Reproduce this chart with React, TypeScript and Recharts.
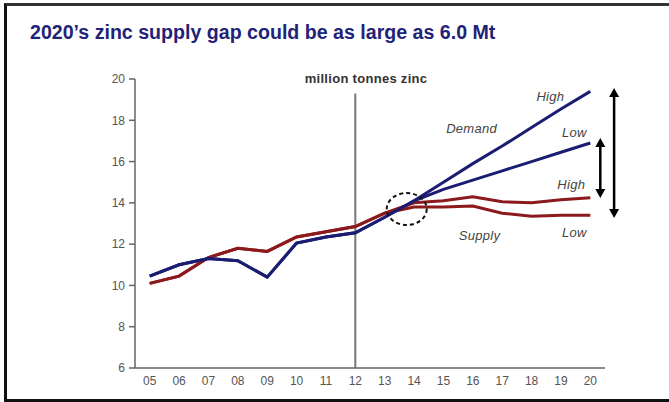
import React from "react";
import {
  LineChart,
  Line,
  XAxis,
  YAxis,
  ReferenceLine,
  ReferenceDot,
} from "recharts";

const years = [5, 6, 7, 8, 9, 10, 11, 12, 13, 14, 15, 16, 17, 18, 19, 20];
const xTickLabels = ["05", "06", "07", "08", "09", "10", "11", "12", "13", "14", "15", "16", "17", "18", "19", "20"];
const yTicks = [6, 8, 10, 12, 14, 16, 18, 20];

// Demand (05..14 history / convergence), then forecast 15..20
const demandHist = [10.45, 11.0, 11.3, 11.2, 10.4, 12.05, 12.35, 12.55, 13.3, 14.1];
const demandHighFc = [15.0, 15.9, 16.75, 17.65, 18.55, 19.4];
const demandLowFc = [14.65, 15.1, 15.55, 16.0, 16.45, 16.9];

// Supply (05..13 history), then forecast 14..20
const supplyHist = [10.1, 10.45, 11.35, 11.8, 11.65, 12.35, 12.6, 12.85, 13.5];
const supplyHighFc = [14.0, 14.1, 14.3, 14.05, 14.0, 14.15, 14.25];
const supplyLowFc = [13.8, 13.8, 13.85, 13.5, 13.35, 13.4, 13.4];

const data = years.map((year, i) => ({
  year,
  dHigh: i < demandHist.length ? demandHist[i] : demandHighFc[i - demandHist.length],
  dLow: i < demandHist.length ? demandHist[i] : demandLowFc[i - demandHist.length],
  sHigh: i < supplyHist.length ? supplyHist[i] : supplyHighFc[i - supplyHist.length],
  sLow: i < supplyHist.length ? supplyHist[i] : supplyLowFc[i - supplyHist.length],
}));

const annotations = [
  { text: "High", x: 18.64, y: 19.13 },
  { text: "Demand", x: 15.96, y: 17.58 },
  { text: "Low", x: 19.46, y: 17.39 },
  { text: "High", x: 19.35, y: 14.87 },
  { text: "Supply", x: 16.23, y: 12.44 },
  { text: "Low", x: 19.46, y: 12.54 },
];

const arrows = [
  { x: 20.81, from: 19.57, to: 13.27 },
  { x: 20.34, from: 17.14, to: 14.24 },
];

const FONT = '"Liberation Sans", Arial, sans-serif';
const BLUE = "#1a1d72";
const RED = "#8c1a1c";

const ArrowShape = (props: any) => {
  const { x1, y1, x2, y2 } = props;
  const top = Math.min(y1, y2);
  const bot = Math.max(y1, y2);
  const x = x1;
  const h = 9;
  const w = 5;
  return (
    <g>
      <line x1={x} y1={top + h - 1} x2={x} y2={bot - h + 1} stroke="#000" strokeWidth={2.5} />
      <polygon points={`${x},${top} ${x - w},${top + h} ${x + w},${top + h}`} fill="#000" />
      <polygon points={`${x},${bot} ${x - w},${bot - h} ${x + w},${bot - h}`} fill="#000" />
    </g>
  );
};

const EllipseShape = (props: any) => {
  const { cx, cy } = props;
  return (
    <ellipse cx={cx} cy={cy} rx={20} ry={16} fill="none" stroke="#111" strokeWidth={2} strokeDasharray="4 3" />
  );
};

const makeTextShape = (text: string) => (props: any) => {
  const { cx, cy } = props;
  return (
    <text
      x={cx}
      y={cy}
      textAnchor="middle"
      dominantBaseline="central"
      fontFamily={FONT}
      fontStyle="italic"
      fontSize={13}
      letterSpacing={0.3}
      fill="#444"
    >
      {text}
    </text>
  );
};

export default function App() {
  return (
    <div style={{ position: "absolute", left: 0, top: 0, width: 669, height: 402, background: "#fff", fontFamily: FONT }}>
      <div
        style={{
          position: "absolute",
          left: 4,
          top: 3,
          width: 665,
          height: 399,
          boxSizing: "border-box",
          borderLeft: "3px solid #111",
          borderTop: "3px solid #333",
          borderBottom: "3px solid #111",
        }}
      />
      <div
        style={{
          position: "absolute",
          left: 30,
          top: 20,
          fontSize: 19.6,
          fontWeight: "bold",
          color: "#1f2378",
          whiteSpace: "nowrap",
          lineHeight: "24px",
        }}
      >
        2020’s zinc supply gap could be as large as 6.0 Mt
      </div>
      <div
        style={{
          position: "absolute",
          left: 266,
          width: 200,
          top: 71,
          textAlign: "center",
          fontSize: 13,
          letterSpacing: 0.3,
          fontWeight: "bold",
          color: "#333",
          whiteSpace: "nowrap",
          lineHeight: "16px",
        }}
      >
        million tonnes zinc
      </div>
      <div style={{ position: "absolute", left: 0, top: 0 }}>
        <LineChart width={669} height={402} data={data} margin={{ top: 79, right: 64, bottom: 4, left: 0 }}>
          <XAxis
            dataKey="year"
            type="number"
            domain={[4.5, 20.5]}
            ticks={years}
            tickFormatter={(v: number) => xTickLabels[years.indexOf(v)] ?? ""}
            tickLine={false}
            tickMargin={2}
            height={30}
            stroke="#666"
            strokeWidth={1.5}
            tick={{ fill: "#555", fontSize: 12, fontFamily: FONT }}
            allowDataOverflow
          />
          <YAxis
            type="number"
            domain={[6, 20]}
            ticks={yTicks}
            width={135}
            tickSize={6}
            tickMargin={4}
            stroke="#666"
            strokeWidth={1.5}
            tick={{ fill: "#555", fontSize: 12, fontFamily: FONT }}
            allowDataOverflow
          />
          <ReferenceLine
            segment={[{ x: 12, y: 6 }, { x: 12, y: 19.3 }]}
            stroke="#777"
            strokeWidth={2}
            ifOverflow="visible"
          />
          <Line type="linear" dataKey="sHigh" stroke={RED} strokeWidth={3} dot={false} isAnimationActive={false} />
          <Line type="linear" dataKey="sLow" stroke={RED} strokeWidth={3} dot={false} isAnimationActive={false} />
          <Line type="linear" dataKey="dLow" stroke={BLUE} strokeWidth={3} dot={false} isAnimationActive={false} />
          <Line type="linear" dataKey="dHigh" stroke={BLUE} strokeWidth={3} dot={false} isAnimationActive={false} />
          <ReferenceDot x={13.75} y={13.7} r={0} shape={EllipseShape} ifOverflow="visible" />
          {arrows.map((a, i) => (
            <ReferenceLine
              key={"arr" + i}
              segment={[{ x: a.x, y: a.from }, { x: a.x, y: a.to }]}
              shape={ArrowShape}
              ifOverflow="visible"
            />
          ))}
          {annotations.map((a, i) => (
            <ReferenceDot key={"ann" + i} x={a.x} y={a.y} r={0} shape={makeTextShape(a.text)} ifOverflow="visible" />
          ))}
        </LineChart>
      </div>
    </div>
  );
}
